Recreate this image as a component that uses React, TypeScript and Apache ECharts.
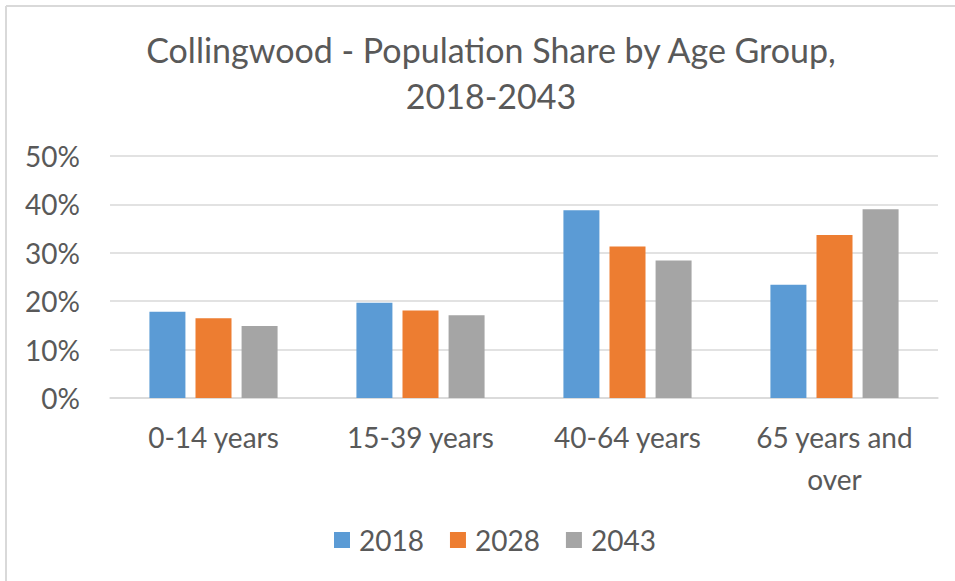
import React, { useEffect, useRef } from "react";
import * as echarts from "echarts";

const categories = ["0-14 years", "15-39 years", "40-64 years", "65 years and\nover"];
const seriesNames = ["2018", "2028", "2043"];
const values2018 = [17.8, 19.7, 38.8, 23.4];
const values2028 = [16.5, 18.1, 31.3, 33.7];
const values2043 = [14.9, 17.1, 28.4, 39.0];
const colors = ["#5B9BD5", "#ED7D31", "#A5A5A5"];

const FONT = "Lato, 'Liberation Sans', sans-serif";

export default function App() {
  const ref = useRef<HTMLDivElement>(null);
  useEffect(() => {
    document.body.style.margin = "0";
    if (!ref.current) return;
    const chart = echarts.init(ref.current, null, { renderer: "svg" });
    const data = [values2018, values2028, values2043];
    chart.setOption({
      animation: false,
      backgroundColor: "#ffffff",
      textStyle: { fontFamily: FONT, color: "#595959" },
      title: {
        text: "Collingwood - Population Share by Age Group,\n2018-2043",
        left: 486,
        textAlign: "center",
        top: 21,
        textStyle: { fontFamily: FONT, fontSize: 34, fontWeight: "normal", color: "#595959", lineHeight: 46 },
      },
      graphic: [
        { type: "line", shape: { x1: 6, y1: 6, x2: 955, y2: 6 }, style: { stroke: "#D9D9D9", lineWidth: 2 } },
        { type: "line", shape: { x1: 6, y1: 6, x2: 6, y2: 581 }, style: { stroke: "#D9D9D9", lineWidth: 2 } },
      ],
      legend: {
        data: seriesNames,
        bottom: 22,
        left: 329,
        itemWidth: 16,
        itemHeight: 16,
        itemGap: 26,
        icon: "rect",
        textStyle: { fontFamily: FONT, fontSize: 28, color: "#595959", padding: [0, 0, 0, 4] },
      },
      grid: { left: 110, right: 17, top: 156, bottom: 183, containLabel: false },
      xAxis: {
        type: "category",
        data: categories,
        axisLine: { lineStyle: { color: "#D9D9D9", width: 1.5 } },
        axisTick: { show: false },
        axisLabel: { fontFamily: FONT, fontSize: 28, color: "#595959", margin: 18, lineHeight: 42 },
      },
      yAxis: {
        type: "value",
        min: 0,
        max: 50,
        interval: 10,
        axisLine: { show: false },
        axisTick: { show: false },
        splitLine: { lineStyle: { color: "#D9D9D9", width: 1.5 } },
        axisLabel: { formatter: "{value}%", fontFamily: FONT, fontSize: 28, color: "#595959", margin: 30 },
      },
      series: seriesNames.map((name, i) => ({
        name,
        type: "bar",
        data: data[i],
        barWidth: 36,
        barGap: "28%",
        itemStyle: { color: colors[i] },
      })),
    });
    return () => chart.dispose();
  }, []);
  return <div ref={ref} style={{ width: 955, height: 581 }} />;
}
